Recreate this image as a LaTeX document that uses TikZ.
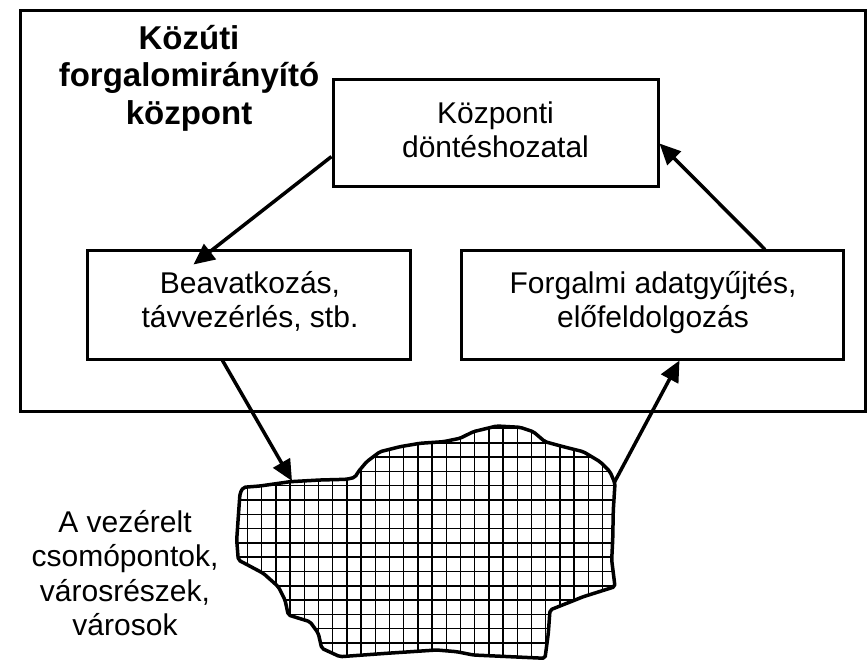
\documentclass[tikz,border=0pt]{standalone}
\usepackage{fontspec}
\setmainfont{Liberation Sans}
\usetikzlibrary{arrows.meta,calc}
\newcommand\lnstrut{\rule{0pt}{27pt}}
\def\blobpath{(243.3,487.3) -- (260,486) -- (290,481.7) -- (320,480) -- (346.7,479.3)
  -- (355,477.3) -- (358.3,471.7) -- (366.7,461.7) -- (380,451.7) -- (400,446.7)
  -- (420,443.3) -- (443.3,441.7) -- (460,438.3) -- (473.3,431.7) -- (496.7,426)
  -- (520,427.3) -- (533.3,431.7) -- (545,441.7) -- (563.3,446.7) -- (583.3,451.7)
  -- (600,461.7) -- (610,471.7) -- (615,483.3) -- (613.3,510) -- (612.7,540)
  -- (611.7,560) -- (615,586.7) -- (583.3,596.7) -- (550,610) -- (548.3,633.3)
  -- (545,658.3) -- (510,656.7) -- (473.3,655) -- (456.7,651.7) -- (436.7,650)
  -- (386.7,653.3) -- (340,656.7) -- (321.7,648.3) -- (318.3,633.3) -- (310,621.7)
  -- (288.3,615) -- (285,600) -- (278.3,586.7) -- (263.3,573.3) -- (238.3,560)
  -- (236.7,540) -- (238.3,516.7) -- (240,493.3) -- cycle}
\begin{document}
\begin{tikzpicture}[x=1pt,y=-1pt,
  box/.style={draw,line width=3pt,inner sep=0pt},
  lbl/.style={align=center,inner sep=0pt,anchor=north,font=\fontsize{30}{34.5}\selectfont},
  ttl/.style={align=center,inner sep=0pt,anchor=north,font=\bfseries\fontsize{33}{37.5}\selectfont},
  flow/.style={line width=3.5pt,-{Triangle[length=21pt,width=19pt]}},
  hatch/.style={line width=1.5pt},
  rim/.style={line width=3.5pt,line join=round,rounded corners=2pt}]
\useasboundingbox (0,0) rectangle (868,663);

% control centre frame and its three units
\node[box,minimum width=845pt,minimum height=400pt] (frame) at (442.5,211) {};
\node[box,minimum width=325pt,minimum height=107pt] (tb) at (495.5,133.5) {};
\node[box,minimum width=323pt,minimum height=108pt] (lb) at (248.5,305) {};
\node[box,minimum width=382pt,minimum height=108pt] (rb) at (652,305) {};

\node[ttl] (title) at (189,22) {\lnstrut Közúti\\forgalomirányító\\központ};
\node[lbl] (tbtext) at (495.5,96) {\lnstrut Központi\\döntéshozatal};
\node[lbl] (lbtext) at (250,266) {\lnstrut Beavatkozás,\\távvezérlés, stb.};
\node[lbl] (rbtext) at (653,266) {\lnstrut Forgalmi adatgyűjtés,\\előfeldolgozás};

% controlled area
\begin{scope}
  \clip \blobpath;
  \foreach \k in {-2,...,25}
    \draw[hatch] ({261.7+14.2*\k},420) -- ({261.7+14.2*\k},665);
  \foreach \k in {-6,...,12}
    \draw[hatch] (230,{500+14.3*\k}) -- (620,{500+14.3*\k});
\end{scope}
\draw[rim] \blobpath;
\coordinate (bin) at (292,481);
\coordinate (bout) at (614,483);

\node[lbl] (area) at (125,505) {\lnstrut A vezérelt\\csomópontok,\\városrészek,\\városok};

% control loop
\draw[flow] (tb.188) -- ($(lb.north west)+(108,15)$);
\draw[flow] ($(rb.north)+(113,0)$) -- ($(tb.east)+(0,10)$);
\draw[flow] ($(lb.south west)+(137,0)$) -- (bin);
\draw[flow] (bout) -- ($(rb.south west)+(220,0)$);
\end{tikzpicture}
\end{document}
